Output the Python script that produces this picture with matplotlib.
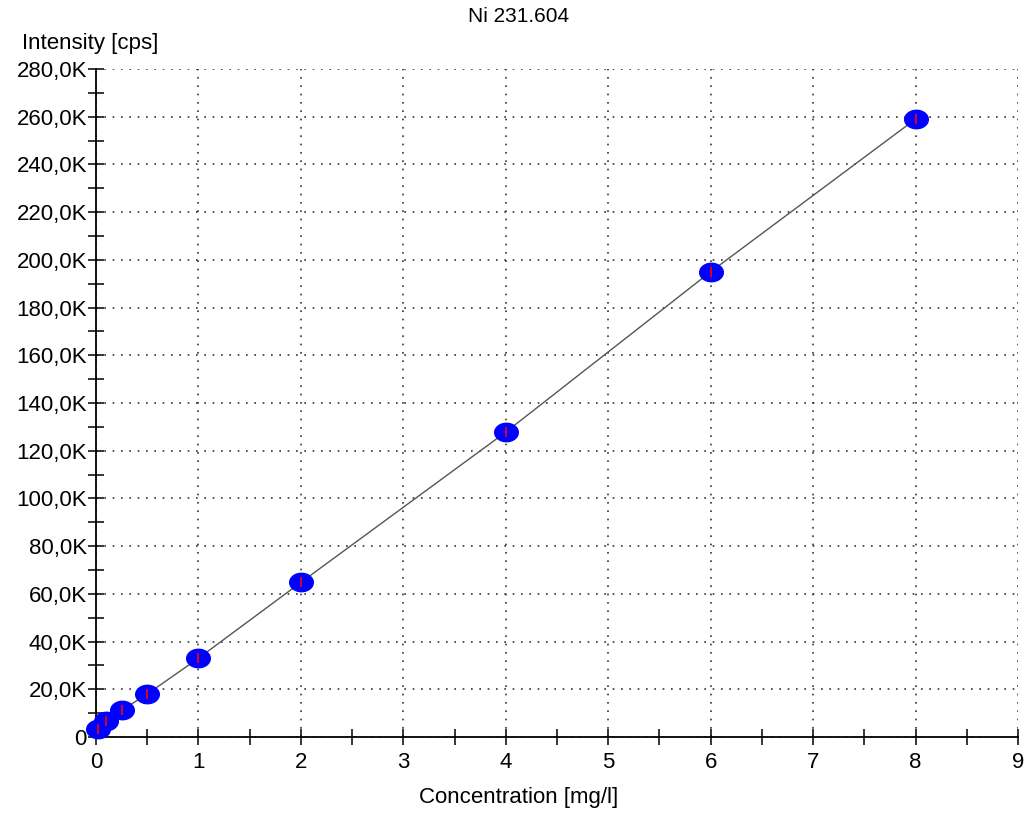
import matplotlib
matplotlib.use("Agg")
import matplotlib.pyplot as plt
import numpy as np
from matplotlib.path import Path
from matplotlib.ticker import MultipleLocator, FuncFormatter

plt.rcParams['font.family'] = ['Liberation Sans', 'DejaVu Sans']

conc = [0.02, 0.1, 0.25, 0.5, 1.0, 2.0, 4.0, 6.0, 8.0]
intensity = [3.4, 6.8, 11.2, 18.0, 33.0, 64.8, 127.8, 195.0, 259.0]  # K cps

title = "Ni 231.604"
xlabel = "Concentration [mg/l]"
ylabel = "Intensity [cps]"

# elliptical marker (wider than tall)
t = np.linspace(0, 2 * np.pi, 60)
ellipse = Path(np.column_stack([np.cos(t), 0.78 * np.sin(t)]), closed=True)

fig = plt.figure(figsize=(10.32, 8.14), dpi=100)
ax = fig.add_axes([96/1032, 1 - 737/814, (1018-96)/1032, (737-69)/814])

ax.plot(conc, intensity, color='#555555', lw=1.0, zorder=3)
ax.plot(conc, intensity, linestyle='none', marker=ellipse, ms=17, mfc='#0000ff', mec='#0000ff',
        zorder=4, clip_on=False)
ax.plot(conc, intensity, linestyle='none', marker='|', ms=7, mec='#ff0000', mew=1.2, zorder=5,
        clip_on=False)

ax.set_xlim(0, 9)
ax.set_ylim(0, 280)
ax.xaxis.set_major_locator(MultipleLocator(1))
ax.xaxis.set_minor_locator(MultipleLocator(0.5))
ax.yaxis.set_major_locator(MultipleLocator(20))
ax.yaxis.set_minor_locator(MultipleLocator(10))

def yfmt(v, pos):
    if v == 0:
        return "0"
    return f"{v:.1f}".replace('.', ',') + "K"
ax.yaxis.set_major_formatter(FuncFormatter(yfmt))

ax.grid(True, which='major', linestyle=(0, (1, 4)), color='#333333', lw=1.2)
for s in ['top', 'right']:
    ax.spines[s].set_visible(False)
for s in ['left', 'bottom']:
    ax.spines[s].set_linewidth(1.3)
ax.tick_params(which='both', direction='inout', length=11, width=1.1, labelsize=16, pad=1)
ax.tick_params(axis='x', pad=5)

fig.text(519/1032, 1 - 17/814, title, ha='center', va='center', fontsize=15)
fig.text(22/1032, 1 - 44/814, ylabel, ha='left', va='center', fontsize=16)
fig.text(519/1032, 1 - 797/814, xlabel, ha='center', va='center', fontsize=16)

fig.savefig("out.png", dpi=100)
